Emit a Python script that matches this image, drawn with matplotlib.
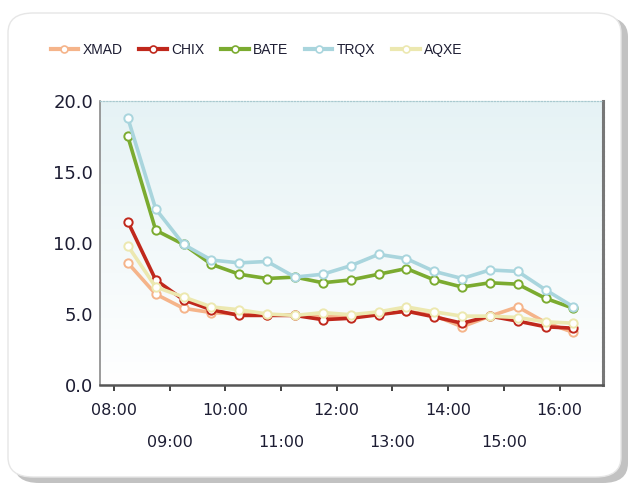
import matplotlib
matplotlib.use("Agg")
import matplotlib.pyplot as plt
import numpy as np
from matplotlib.patches import FancyBboxPatch
from matplotlib.lines import Line2D

# ---- data ----
times = [8.25, 8.75, 9.25, 9.75, 10.25, 10.75, 11.25, 11.75, 12.25, 12.75,
         13.25, 13.75, 14.25, 14.75, 15.25, 15.75, 16.25]
XMAD = [8.6, 6.4, 5.4, 5.1, 5.0, 4.95, 4.9, 4.8, 4.8, 5.0, 5.2, 4.9, 4.1, 4.85, 5.5, 4.4, 3.7]
CHIX = [11.5, 7.4, 6.0, 5.3, 4.9, 4.9, 4.9, 4.6, 4.7, 4.95, 5.2, 4.8, 4.35, 4.85, 4.5, 4.1, 4.0]
BATE = [17.5, 10.9, 9.9, 8.5, 7.8, 7.5, 7.6, 7.2, 7.4, 7.8, 8.2, 7.4, 6.9, 7.2, 7.1, 6.1, 5.4]
TRQX = [18.8, 12.4, 9.9, 8.8, 8.6, 8.7, 7.6, 7.8, 8.4, 9.2, 8.9, 8.0, 7.5, 8.1, 8.0, 6.7, 5.5]
AQXE = [9.8, 6.9, 6.2, 5.5, 5.3, 5.0, 4.9, 5.1, 4.95, 5.15, 5.5, 5.15, 4.85, 4.85, 4.75, 4.45, 4.35]
series = [("XMAD", XMAD, "#f5b48a"), ("CHIX", CHIX, "#c0281c"),
          ("BATE", BATE, "#7bab30"), ("TRQX", TRQX, "#a9d5dd"),
          ("AQXE", AQXE, "#ece8b0")]
even_ticks = [8, 10, 12, 14, 16]
even_labels = ["08:00", "10:00", "12:00", "14:00", "16:00"]
odd_ticks = [9, 11, 13, 15]
odd_labels = ["09:00", "11:00", "13:00", "15:00"]
y_ticks = [0, 5, 10, 15, 20]

W, H = 632, 490
fig = plt.figure(figsize=(W / 100, H / 100), dpi=100)
fig.patch.set_facecolor("white")

# panel with shadow
shadow = FancyBboxPatch((14 / W, 7 / H), 614 / W, 466 / H,
                        boxstyle="round,pad=0,rounding_size=0.04",
                        transform=fig.transFigure, facecolor="#9a9a9a",
                        edgecolor="none", alpha=0.6, zorder=0)
fig.patches.append(shadow)
panel = FancyBboxPatch((8 / W, 13 / H), 613 / W, 464 / H,
                       boxstyle="round,pad=0,rounding_size=0.04",
                       transform=fig.transFigure, facecolor="white",
                       edgecolor="#e6e6e6", linewidth=1, zorder=1)
fig.patches.append(panel)

ax = fig.add_axes([100 / W, 1 - 385 / H, 503 / W, 284 / H], zorder=2)
x0, x1 = 7.75, 16.78
ax.set_xlim(x0, x1)

# gradient background (light blue at top, white at bottom)
grad = np.linspace(0, 1, 256).reshape(-1, 1)
top = np.array([0.90, 0.95, 0.96])
bot = np.array([1.0, 1.0, 1.0])
img = top[None, None, :] * (1 - grad[:, :, None]) + bot[None, None, :] * grad[:, :, None]
ax.imshow(img, extent=[x0, x1, 0, 20], origin="upper", aspect="auto", zorder=0)
ax.set_xlim(x0, x1)
ax.set_ylim(0, 20)

for name, vals, col in series:
    ax.plot(times, vals, color=col, lw=2.6, marker="o", ms=6,
            markerfacecolor="white", markeredgecolor=col, markeredgewidth=1.4,
            label=name, zorder=3, solid_joinstyle="round")

# spines
ax.spines["top"].set_linestyle((0, (1, 1.5)))
ax.spines["top"].set_color("#a9c9cf")
ax.spines["top"].set_linewidth(0.9)
ax.spines["right"].set_color("#777777")
ax.spines["right"].set_linewidth(2.2)
ax.spines["right"].set_linestyle((0, (1, 0.6)))
ax.spines["left"].set_color("#8a8a8a")
ax.spines["left"].set_linewidth(1.2)
ax.spines["bottom"].set_color("#555555")
ax.spines["bottom"].set_linewidth(1.8)

ax.set_yticks(y_ticks)
ax.set_yticklabels([f"{v:.1f}" for v in y_ticks])
ax.tick_params(axis="y", length=0, pad=5, labelsize=13, labelcolor="#1d1d33")

ax.set_xticks(even_ticks)
ax.set_xticklabels(even_labels)
ax.set_xticks(odd_ticks, minor=True)
ax.set_xticklabels(odd_labels, minor=True)
ax.tick_params(axis="x", which="major", length=4, width=1.3, color="#333333",
               pad=9, labelsize=11.5, labelcolor="#1d1d33", direction="out")
ax.tick_params(axis="x", which="minor", length=4, width=1.3, color="#333333",
               pad=32, labelsize=11.5, labelcolor="#1d1d33", direction="out")

handles = [Line2D([0], [0], color=c, lw=3, marker="o", ms=5,
                  markerfacecolor="white", markeredgecolor=c, markeredgewidth=1.2)
           for _, _, c in series]
fig.legend(handles, [s[0] for s in series], loc="center left",
           bbox_to_anchor=(38 / W, 1 - 50 / H), ncol=5, frameon=False,
           prop={"family": "Liberation Sans", "size": 10},
           handlelength=2.0, handletextpad=0.3, columnspacing=1.2,
           labelcolor="#1d1d33")

fig.savefig("out.png", dpi=100)
